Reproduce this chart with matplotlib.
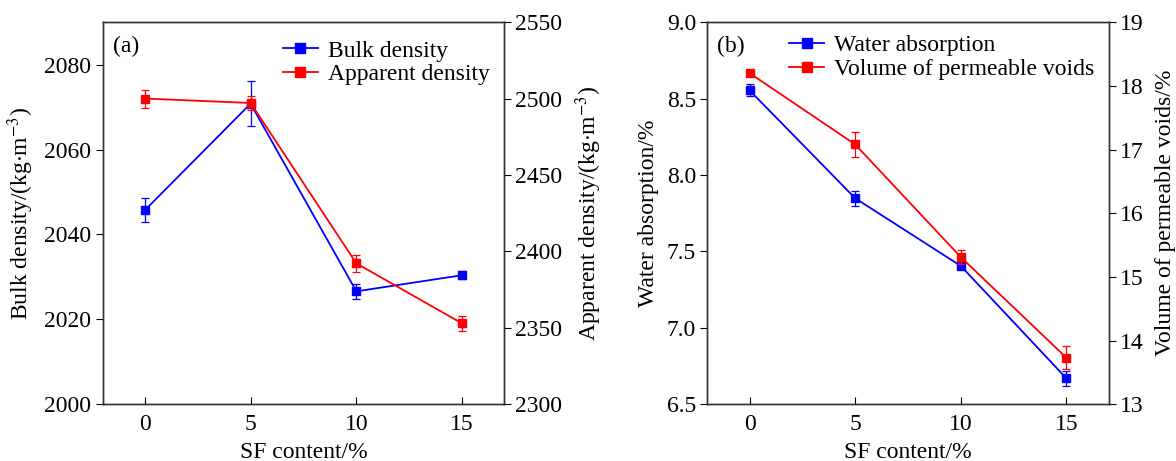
import matplotlib
matplotlib.use("Agg")
import matplotlib.pyplot as plt
from matplotlib.lines import Line2D

plt.rcParams['font.family'] = ['Liberation Serif', 'DejaVu Serif']
plt.rcParams['mathtext.fontset'] = 'stix'

sf = [0, 5, 10, 15]
x_ticks = [0, 5, 10, 15]

bulk = [2045.7, 2070.8, 2026.6, 2030.4]
bulk_err = [2.8, 5.3, 1.8, 1.0]
apparent = [2500.0, 2497.1, 2392.2, 2352.9]
apparent_err = [5.9, 4.6, 5.4, 5.0]

water = [8.554, 7.848, 7.405, 6.669]
water_err = [0.04, 0.05, 0.02, 0.05]
voids = [18.2, 17.08, 15.31, 13.73]
voids_err = [0.05, 0.19, 0.11, 0.18]

tfs = 17
lfs = 17
gfs = 17
blue = '#0000ff'
red = '#ff0000'

fig = plt.figure(figsize=(11.76, 4.61), dpi=100)

def style(ax, twin):
    for s in list(ax.spines.values()) + list(twin.spines.values()):
        s.set_color('#333333')
        s.set_linewidth(1.0)
    ax.tick_params(axis='x', direction='in', length=5, labelsize=tfs, pad=7)
    ax.tick_params(axis='y', direction='out', length=5, labelsize=tfs, pad=3)
    twin.tick_params(axis='y', direction='out', length=5, labelsize=tfs, pad=3)

def series(ax, y, e, c):
    ax.errorbar(sf, y, yerr=e, color=c, marker='s', markersize=6.3,
                linewidth=1.3, elinewidth=0.9, capsize=3, capthick=0.9)

def handle(c):
    return Line2D([], [], color=c, marker='s', markersize=7, linewidth=1.3)

# Panel (a)
axa = fig.add_axes([0.0872, 0.123, 0.3417, 0.829])
axa2 = axa.twinx()
series(axa, bulk, bulk_err, blue)
series(axa2, apparent, apparent_err, red)
axa.set_xlim(-2, 17)
axa.set_ylim(2000, 2090)
axa.set_yticks([2000, 2020, 2040, 2060, 2080])
axa2.set_ylim(2300, 2550)
axa2.set_yticks([2300, 2350, 2400, 2450, 2500, 2550])
axa.set_xticks(x_ticks)
axa.set_xlabel('SF content/%', fontsize=lfs, labelpad=5)
axa.set_ylabel('Bulk density/(kg$\\cdot$m$^{-3}$)', fontsize=lfs, labelpad=6)
axa2.set_ylabel('Apparent density/(kg$\\cdot$m$^{-3}$)', fontsize=lfs, labelpad=8)
style(axa, axa2)
axa.text(0.025, 0.965, '(a)', transform=axa.transAxes, fontsize=gfs, va='top', ha='left')
axa2.legend([handle(blue), handle(red)], ['Bulk density', 'Apparent density'], loc='upper left',
            bbox_to_anchor=(0.413, 0.99), frameon=False, fontsize=gfs,
            handlelength=1.5, handletextpad=0.4, labelspacing=0.08, borderaxespad=0.2)

# Panel (b)
axb = fig.add_axes([0.6014, 0.123, 0.3414, 0.829])
axb2 = axb.twinx()
series(axb, water, water_err, blue)
series(axb2, voids, voids_err, red)
axb.set_xlim(-2, 17)
axb.set_ylim(6.5, 9.0)
axb.set_yticks([6.5, 7.0, 7.5, 8.0, 8.5, 9.0])
axb.set_yticklabels(['6.5', '7.0', '7.5', '8.0', '8.5', '9.0'])
axb2.set_ylim(13, 19)
axb2.set_yticks([13, 14, 15, 16, 17, 18, 19])
axb.set_xticks(x_ticks)
axb.set_xlabel('SF content/%', fontsize=lfs, labelpad=5)
axb.set_ylabel('Water absorption/%', fontsize=lfs, labelpad=6)
axb2.set_ylabel('Volume of permeable voids/%', fontsize=lfs, labelpad=8)
style(axb, axb2)
axb.text(0.025, 0.965, '(b)', transform=axb.transAxes, fontsize=gfs, va='top', ha='left')
axb2.legend([handle(blue), handle(red)], ['Water absorption', 'Volume of permeable voids'], loc='upper left',
            bbox_to_anchor=(0.168, 1.005), frameon=False, fontsize=gfs,
            handlelength=1.5, handletextpad=0.4, labelspacing=0.12, borderaxespad=0.2)

fig.savefig('out.png', dpi=100)
